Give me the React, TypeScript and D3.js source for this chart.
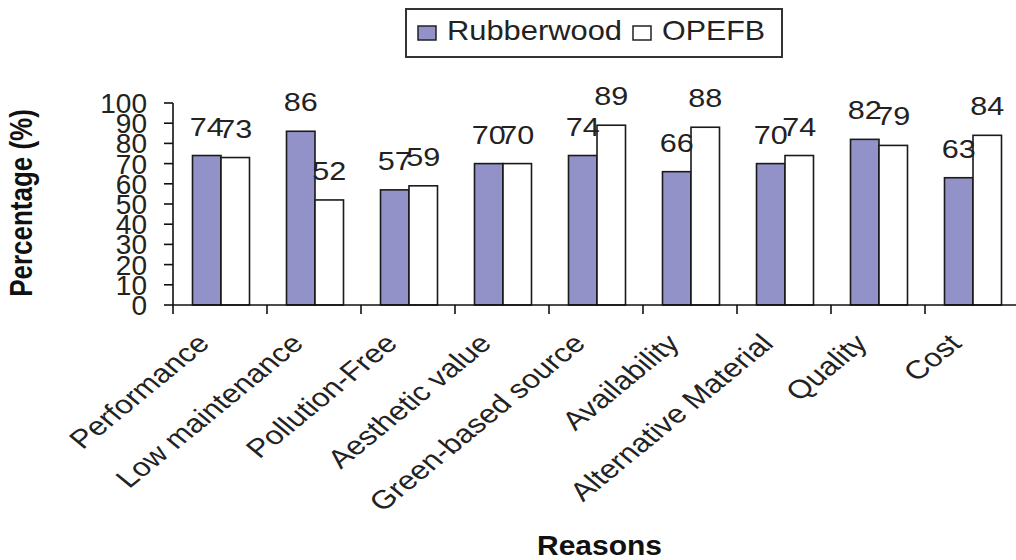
import React from "react";
import * as d3 from "d3";

const categories = [
  "Performance",
  "Low maintenance",
  "Pollution-Free",
  "Aesthetic value",
  "Green-based source",
  "Availability",
  "Alternative Material",
  "Quality",
  "Cost",
];
const seriesNames = ["Rubberwood", "OPEFB"];
const rubberwood = [74, 86, 57, 70, 74, 66, 70, 82, 63];
const opefb = [73, 52, 59, 70, 89, 88, 74, 79, 84];
const yTicks = [0, 10, 20, 30, 40, 50, 60, 70, 80, 90, 100];

const W = 1016;
const H = 560;
const plotLeft = 173;
const plotRight = 1019;
const plotTop = 103;
const plotBottom = 305;
const fillColors = ["#9292c9", "#ffffff"];
const FONT = "'Liberation Sans', Arial, sans-serif";
const SX = 1.22;

export default function App() {
  const x = d3.scaleBand<string>().domain(categories).range([plotLeft, plotRight]).padding(0);
  const inner = d3.scaleBand<string>().domain(seriesNames).range([19.5, 76.5]).padding(0);
  const y = d3.scaleLinear().domain([0, 100]).range([plotBottom, plotTop]);
  const values = [rubberwood, opefb];

  return (
    <svg width={W} height={H} style={{ position: "absolute", left: 0, top: 0, background: "#fff" }} fontFamily={FONT}>
      {/* legend */}
      <rect x={406} y={9} width={376} height={48} fill="#fff" stroke="#333" strokeWidth={2} />
      <rect x={418} y={26} width={18} height={14} fill={fillColors[0]} stroke="#222" strokeWidth={1.5} />
      <text x={447} y={40} fontSize={28} fill="#222" textLength={175} lengthAdjust="spacingAndGlyphs">
        {seriesNames[0]}
      </text>
      <rect x={633} y={26} width={18} height={14} fill={fillColors[1]} stroke="#222" strokeWidth={1.5} />
      <text x={662} y={40} fontSize={28} fill="#222" textLength={103} lengthAdjust="spacingAndGlyphs">
        {seriesNames[1]}
      </text>

      {/* bars */}
      {categories.map((c, i) =>
        seriesNames.map((s, j) => {
          const v = values[j][i];
          const bx = (x(c) as number) + (inner(s) as number);
          const bw = inner.bandwidth();
          return (
            <rect
              key={c + s}
              x={bx}
              y={y(v)}
              width={bw}
              height={plotBottom - y(v)}
              fill={fillColors[j]}
              stroke="#1a1a1a"
              strokeWidth={1.6}
            />
          );
        })
      )}

      {/* data labels */}
      {categories.map((c, i) =>
        seriesNames.map((s, j) => {
          const v = values[j][i];
          const cx = (x(c) as number) + (inner(s) as number) + inner.bandwidth() / 2;
          return (
            <text
              key={"l" + c + s}
              x={cx - 17}
              y={y(v) - 20}
              fontSize={26}
              fill="#222"
              textLength={34}
              lengthAdjust="spacingAndGlyphs"
            >
              {String(v)}
            </text>
          );
        })
      )}

      {/* y axis */}
      <line x1={plotLeft} x2={plotLeft} y1={plotTop} y2={plotBottom + 9} stroke="#111" strokeWidth={1.6} />
      {yTicks.map((t) => (
        <g key={"yt" + t}>
          <line x1={plotLeft - 9} x2={plotLeft} y1={y(t)} y2={y(t)} stroke="#111" strokeWidth={1.6} />
          <text x={147} y={y(t)} dy="0.36em" textAnchor="end" fontSize={28} fill="#222">
            {String(t)}
          </text>
        </g>
      ))}

      {/* x axis */}
      <line x1={plotLeft} x2={plotRight} y1={plotBottom} y2={plotBottom} stroke="#111" strokeWidth={1.6} />
      {categories.map((c) => (
        <line
          key={"xt" + c}
          x1={(x(c) as number) + x.bandwidth()}
          x2={(x(c) as number) + x.bandwidth()}
          y1={plotBottom}
          y2={plotBottom + 9}
          stroke="#111"
          strokeWidth={1.6}
        />
      ))}
      {categories.map((c) => {
        const cx = (x(c) as number) + x.bandwidth() / 2;
        return (
          <text
            key={"xl" + c}
            transform={`translate(${cx - 25},${332}) scale(${SX},1) rotate(-45)`}
            textAnchor="end"
            dy="0.71em"
            fontSize={26}
            fill="#222"
          >
            {c}
          </text>
        );
      })}

      {/* axis titles */}
      <text
        transform={`translate(32,203) scale(1.2,1) rotate(-90)`}
        textAnchor="middle"
        fontSize={26}
        fontWeight="bold"
        fill="#111"
      >
        Percentage (%)
      </text>
      <text x={537} y={555} fontSize={28} fontWeight="bold" fill="#111" textLength={125} lengthAdjust="spacingAndGlyphs">
        Reasons
      </text>
    </svg>
  );
}
